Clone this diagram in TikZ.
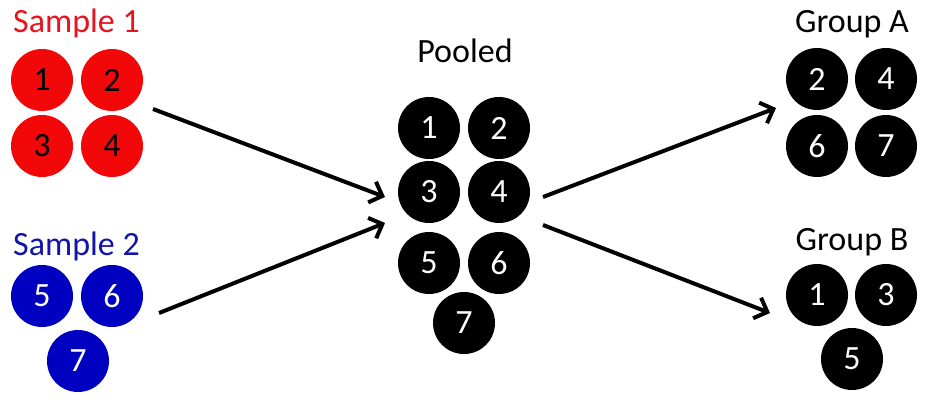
\documentclass[tikz,border=0pt]{standalone}
\usepackage{fontspec}
\setmainfont{Carlito}
\usetikzlibrary{arrows.meta}
\definecolor{ballred}{RGB}{242,8,8}
\definecolor{ballblue}{RGB}{0,0,192}
\definecolor{titlered}{RGB}{230,20,30}
\definecolor{titleblue}{RGB}{20,20,170}
\tikzset{
  ball/.style={circle,minimum size=62pt,inner sep=0pt,font=\fontsize{34}{34}\selectfont},
  redball/.style={ball,fill=ballred,text=black},
  blueball/.style={ball,fill=ballblue,text=white},
  blackball/.style={ball,fill=black,text=white},
  title/.style={font=\fontsize{34}{34}\selectfont,inner sep=0pt},
  flow/.style={line width=4pt,-{Straight Barb[length=11pt,width=22pt,line width=4pt]}}
}
\begin{document}
\begin{tikzpicture}[x=1pt,y=-1pt]
\useasboundingbox (0,0) rectangle (933,403);
% Sample 1
\node[title,text=titlered,anchor=base west] (t1) at (13,33) {Sample 1};
\node[redball] (r1) at (42,80) {1};
\node[redball] (r2) at (112,80) {2};
\node[redball] (r3) at (42,146) {3};
\node[redball] (r4) at (112,146) {4};
% Sample 2
\node[title,text=titleblue,anchor=base west] (t2) at (13,255) {Sample 2};
\node[blueball] (b5) at (42,296) {5};
\node[blueball] (b6) at (112,296) {6};
\node[blueball] (b7) at (78,361) {7};
% Pooled
\node[title,anchor=base] (tp) at (465,63) {Pooled};
\node[blackball] (p1) at (429,128) {1};
\node[blackball] (p2) at (499,128) {2};
\node[blackball] (p3) at (429,192) {3};
\node[blackball] (p4) at (499,192) {4};
\node[blackball] (p5) at (429,263) {5};
\node[blackball] (p6) at (499,263) {6};
\node[blackball] (p7) at (464,323) {7};
% Group A
\node[title,anchor=base] (ta) at (852,33) {Group A};
\node[blackball] (a2) at (817,79) {2};
\node[blackball] (a4) at (886,79) {4};
\node[blackball] (a6) at (817,146) {6};
\node[blackball] (a7) at (886,146) {7};
% Group B
\node[title,anchor=base] (tb) at (852,250) {Group B};
\node[blackball] (g1) at (817,295) {1};
\node[blackball] (g3) at (886,295) {3};
\node[blackball] (g5) at (852,359) {5};
% arrow end points
\coordinate (s1out) at (153,109);
\coordinate (s2out) at (159,313);
\coordinate (pin1) at (385,197);
\coordinate (pin2) at (385,223);
\coordinate (pout1) at (543,197);
\coordinate (pout2) at (543,225);
\coordinate (ain) at (776,108);
\coordinate (bin) at (770,313);
\draw[flow] (s1out) -- (pin1);
\draw[flow] (s2out) -- (pin2);
\draw[flow] (pout1) -- (ain);
\draw[flow] (pout2) -- (bin);
\end{tikzpicture}
\end{document}
